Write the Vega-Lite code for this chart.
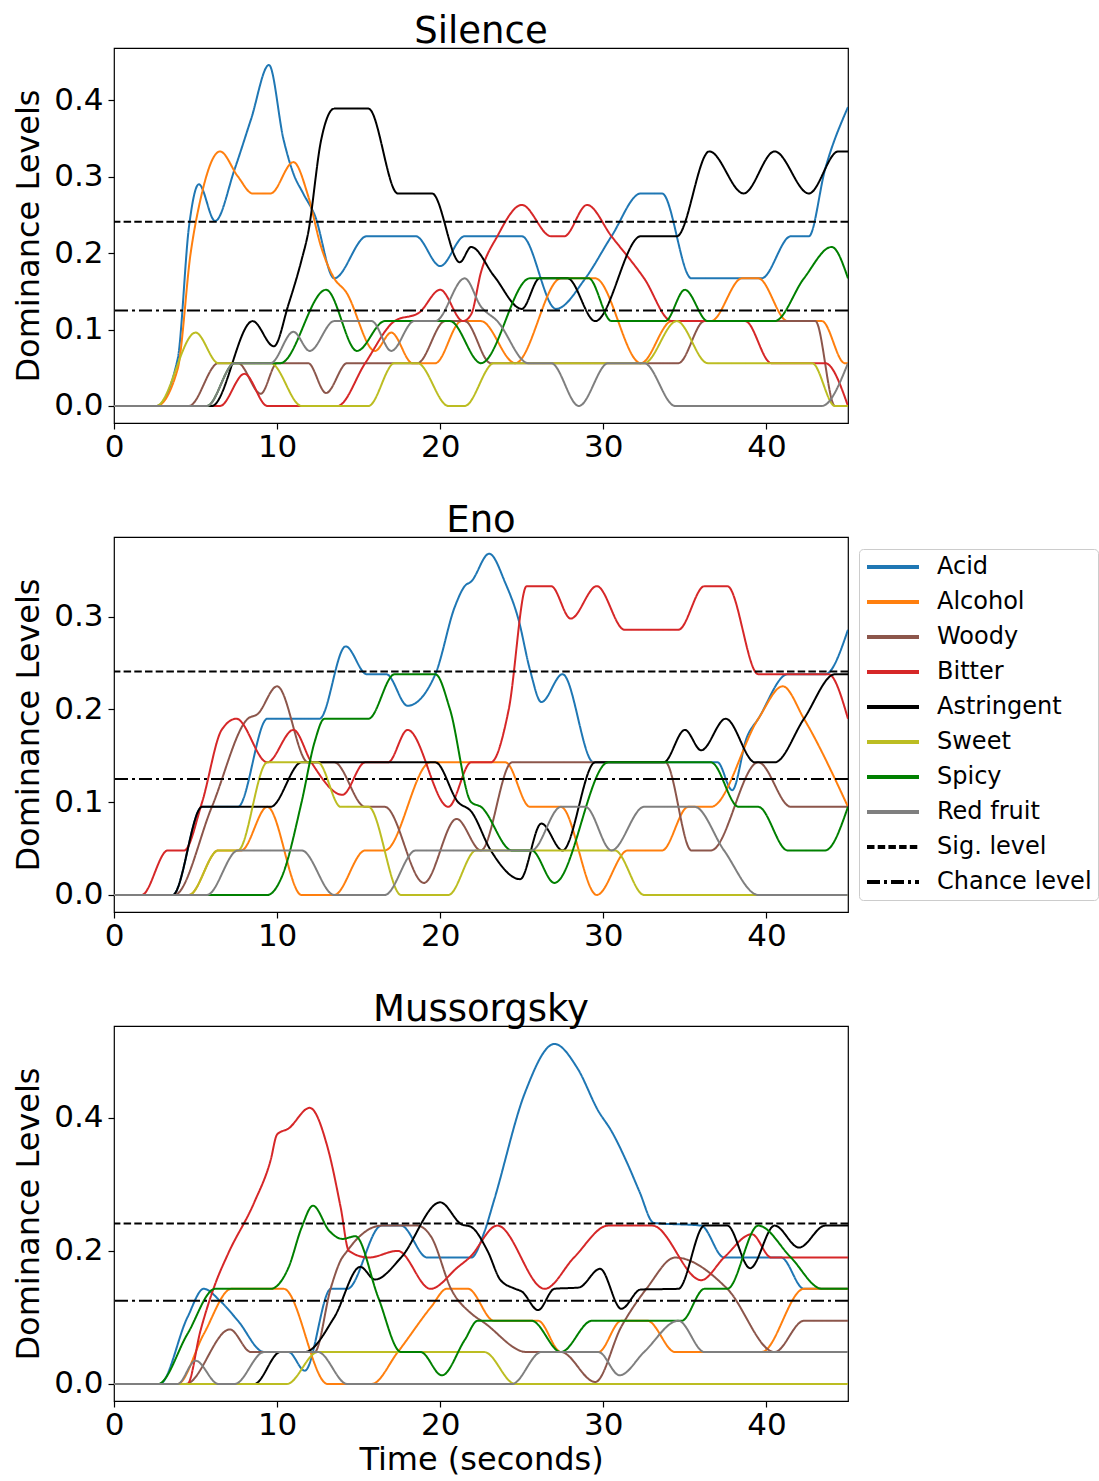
{
"$schema": "https://vega.github.io/schema/vega-lite/v6.json",
"padding": {"left": 12, "top": 12, "right": 0, "bottom": 0},
"background": "white",
"spacing": 114,
"bounds": "flush",
"config": {
 "font": "DejaVu Sans",
 "view": {"stroke": "#000", "strokeWidth": 1.2},
 "axis": {"grid": false, "domain": false, "tickColor": "#000", "tickSize": 6, "tickWidth": 1.2, "labelColor": "#000", "labelFontSize": 31, "labelFont": "DejaVu Sans", "titleFont": "DejaVu Sans", "titleFontSize": 32, "titleFontWeight": "normal", "titleColor": "#000", "labelPadding": 5},
 "axisY": {"titlePadding": 8},
 "axisX": {"titlePadding": 4, "labelPadding": 3, "labelFlush": false},
 "title": {"fontSize": 37, "fontWeight": "normal", "font": "DejaVu Sans", "color": "#000", "offset": -3},
 "legend": {"orient": "none", "legendX": 745, "legendY": 501, "title": null, "symbolType": "stroke", "symbolSize": 2704, "symbolStrokeWidth": 4, "labelFont": "DejaVu Sans", "labelFontSize": 24, "labelColor": "#000", "labelOffset": 16, "rowPadding": 11, "clipHeight": 24, "padding": 6, "strokeColor": "#cccccc", "fillColor": "white", "cornerRadius": 4}
},
"datasets": {
"refs": [{"s": "Sig. level", "v": 0.241}, {"s": "Chance level", "v": 0.125}],
"S": [
{"s":"Acid","t":0,"v":0},{"s":"Acid","t":2.6,"v":0},{"s":"Acid","t":3.9,"v":0.061},{"s":"Acid","t":4.6,"v":0.235},{"s":"Acid","t":5.2,"v":0.29},{"s":"Acid","t":6.2,"v":0.242},{"s":"Acid","t":7.4,"v":0.31},{"s":"Acid","t":8.4,"v":0.375},{"s":"Acid","t":9.5,"v":0.446},{"s":"Acid","t":10.4,"v":0.348},{"s":"Acid","t":11.0,"v":0.304},{"s":"Acid","t":11.6,"v":0.278},{"s":"Acid","t":12.3,"v":0.25},{"s":"Acid","t":13.5,"v":0.167},{"s":"Acid","t":15.5,"v":0.222},{"s":"Acid","t":18.5,"v":0.222},{"s":"Acid","t":20.0,"v":0.183},{"s":"Acid","t":21.5,"v":0.222},{"s":"Acid","t":25.0,"v":0.222},{"s":"Acid","t":27.1,"v":0.127},{"s":"Acid","t":28.9,"v":0.167},{"s":"Acid","t":30.5,"v":0.222},{"s":"Acid","t":32.3,"v":0.278},{"s":"Acid","t":33.6,"v":0.278},{"s":"Acid","t":35.4,"v":0.167},{"s":"Acid","t":39.7,"v":0.167},{"s":"Acid","t":41.5,"v":0.222},{"s":"Acid","t":42.6,"v":0.222},{"s":"Acid","t":43.6,"v":0.31},{"s":"Acid","t":45,"v":0.391},
{"s":"Alcohol","t":0,"v":0},{"s":"Alcohol","t":2.6,"v":0},{"s":"Alcohol","t":3.9,"v":0.048},{"s":"Alcohol","t":4.7,"v":0.2},{"s":"Alcohol","t":5.3,"v":0.27},{"s":"Alcohol","t":6.5,"v":0.333},{"s":"Alcohol","t":7.6,"v":0.3},{"s":"Alcohol","t":8.5,"v":0.278},{"s":"Alcohol","t":9.6,"v":0.278},{"s":"Alcohol","t":11.0,"v":0.319},{"s":"Alcohol","t":11.9,"v":0.275},{"s":"Alcohol","t":12.7,"v":0.208},{"s":"Alcohol","t":13.5,"v":0.167},{"s":"Alcohol","t":14.2,"v":0.15},{"s":"Alcohol","t":16.0,"v":0.072},{"s":"Alcohol","t":17.0,"v":0.096},{"s":"Alcohol","t":18.3,"v":0.056},{"s":"Alcohol","t":19.7,"v":0.056},{"s":"Alcohol","t":21.3,"v":0.111},{"s":"Alcohol","t":22.5,"v":0.111},{"s":"Alcohol","t":24.6,"v":0.056},{"s":"Alcohol","t":27.4,"v":0.167},{"s":"Alcohol","t":29.5,"v":0.167},{"s":"Alcohol","t":32.3,"v":0.056},{"s":"Alcohol","t":34.2,"v":0.111},{"s":"Alcohol","t":36.6,"v":0.111},{"s":"Alcohol","t":38.5,"v":0.167},{"s":"Alcohol","t":39.5,"v":0.167},{"s":"Alcohol","t":41.3,"v":0.111},{"s":"Alcohol","t":43.4,"v":0.111},{"s":"Alcohol","t":44.8,"v":0.056},{"s":"Alcohol","t":45,"v":0.056},
{"s":"Woody","t":0,"v":0},{"s":"Woody","t":4.6,"v":0},{"s":"Woody","t":6.4,"v":0.056},{"s":"Woody","t":7.6,"v":0.056},{"s":"Woody","t":9.0,"v":0.016},{"s":"Woody","t":10.0,"v":0.056},{"s":"Woody","t":11.9,"v":0.056},{"s":"Woody","t":13.0,"v":0.017},{"s":"Woody","t":14.3,"v":0.056},{"s":"Woody","t":18.6,"v":0.056},{"s":"Woody","t":20.3,"v":0.111},{"s":"Woody","t":21.5,"v":0.111},{"s":"Woody","t":23.1,"v":0.056},{"s":"Woody","t":34.6,"v":0.056},{"s":"Woody","t":36.2,"v":0.111},{"s":"Woody","t":43.0,"v":0.111},{"s":"Woody","t":44.2,"v":0},{"s":"Woody","t":45,"v":0},
{"s":"Bitter","t":0,"v":0},{"s":"Bitter","t":6.5,"v":0},{"s":"Bitter","t":8.0,"v":0.042},{"s":"Bitter","t":9.4,"v":0},{"s":"Bitter","t":13.7,"v":0},{"s":"Bitter","t":15.4,"v":0.056},{"s":"Bitter","t":17.2,"v":0.111},{"s":"Bitter","t":18.7,"v":0.122},{"s":"Bitter","t":20.0,"v":0.152},{"s":"Bitter","t":21.4,"v":0.111},{"s":"Bitter","t":21.9,"v":0.12},{"s":"Bitter","t":22.5,"v":0.175},{"s":"Bitter","t":23.5,"v":0.222},{"s":"Bitter","t":25.0,"v":0.263},{"s":"Bitter","t":26.8,"v":0.222},{"s":"Bitter","t":27.6,"v":0.222},{"s":"Bitter","t":29.0,"v":0.263},{"s":"Bitter","t":30.5,"v":0.222},{"s":"Bitter","t":32.5,"v":0.167},{"s":"Bitter","t":34.2,"v":0.111},{"s":"Bitter","t":38.7,"v":0.111},{"s":"Bitter","t":40.3,"v":0.056},{"s":"Bitter","t":43.6,"v":0.056},{"s":"Bitter","t":45,"v":0},
{"s":"Astringent","t":0,"v":0},{"s":"Astringent","t":6.0,"v":0},{"s":"Astringent","t":8.5,"v":0.111},{"s":"Astringent","t":9.8,"v":0.078},{"s":"Astringent","t":10.7,"v":0.133},{"s":"Astringent","t":11.5,"v":0.191},{"s":"Astringent","t":11.9,"v":0.226},{"s":"Astringent","t":12.7,"v":0.348},{"s":"Astringent","t":13.5,"v":0.389},{"s":"Astringent","t":15.6,"v":0.389},{"s":"Astringent","t":17.4,"v":0.278},{"s":"Astringent","t":19.5,"v":0.278},{"s":"Astringent","t":21.2,"v":0.188},{"s":"Astringent","t":21.9,"v":0.208},{"s":"Astringent","t":23.3,"v":0.17},{"s":"Astringent","t":25.0,"v":0.127},{"s":"Astringent","t":26.1,"v":0.167},{"s":"Astringent","t":27.8,"v":0.167},{"s":"Astringent","t":29.5,"v":0.111},{"s":"Astringent","t":32.3,"v":0.222},{"s":"Astringent","t":34.5,"v":0.222},{"s":"Astringent","t":36.5,"v":0.333},{"s":"Astringent","t":38.6,"v":0.278},{"s":"Astringent","t":40.5,"v":0.333},{"s":"Astringent","t":42.6,"v":0.278},{"s":"Astringent","t":44.4,"v":0.333},{"s":"Astringent","t":45,"v":0.333},
{"s":"Sweet","t":0,"v":0},{"s":"Sweet","t":2.6,"v":0},{"s":"Sweet","t":5.0,"v":0.096},{"s":"Sweet","t":6.4,"v":0.056},{"s":"Sweet","t":9.6,"v":0.056},{"s":"Sweet","t":11.5,"v":0},{"s":"Sweet","t":15.6,"v":0},{"s":"Sweet","t":17.2,"v":0.056},{"s":"Sweet","t":18.6,"v":0.056},{"s":"Sweet","t":20.5,"v":0},{"s":"Sweet","t":21.5,"v":0},{"s":"Sweet","t":23.3,"v":0.056},{"s":"Sweet","t":32.5,"v":0.056},{"s":"Sweet","t":34.5,"v":0.111},{"s":"Sweet","t":36.4,"v":0.056},{"s":"Sweet","t":42.8,"v":0.056},{"s":"Sweet","t":44.2,"v":0},{"s":"Sweet","t":45,"v":0},
{"s":"Spicy","t":0,"v":0},{"s":"Spicy","t":5.7,"v":0},{"s":"Spicy","t":7.4,"v":0.056},{"s":"Spicy","t":10.2,"v":0.056},{"s":"Spicy","t":13.0,"v":0.152},{"s":"Spicy","t":14.9,"v":0.072},{"s":"Spicy","t":16.6,"v":0.111},{"s":"Spicy","t":20.6,"v":0.111},{"s":"Spicy","t":22.5,"v":0.056},{"s":"Spicy","t":25.5,"v":0.167},{"s":"Spicy","t":29.1,"v":0.167},{"s":"Spicy","t":30.5,"v":0.111},{"s":"Spicy","t":33.8,"v":0.111},{"s":"Spicy","t":35.0,"v":0.152},{"s":"Spicy","t":36.4,"v":0.111},{"s":"Spicy","t":40.5,"v":0.111},{"s":"Spicy","t":42.3,"v":0.167},{"s":"Spicy","t":44.0,"v":0.208},{"s":"Spicy","t":45,"v":0.167},
{"s":"Red fruit","t":0,"v":0},{"s":"Red fruit","t":5.7,"v":0},{"s":"Red fruit","t":7.4,"v":0.056},{"s":"Red fruit","t":9.6,"v":0.056},{"s":"Red fruit","t":11.0,"v":0.097},{"s":"Red fruit","t":12.0,"v":0.072},{"s":"Red fruit","t":13.5,"v":0.111},{"s":"Red fruit","t":15.8,"v":0.111},{"s":"Red fruit","t":17.0,"v":0.072},{"s":"Red fruit","t":18.4,"v":0.111},{"s":"Red fruit","t":19.7,"v":0.111},{"s":"Red fruit","t":21.5,"v":0.167},{"s":"Red fruit","t":22.5,"v":0.13},{"s":"Red fruit","t":23.5,"v":0.111},{"s":"Red fruit","t":25.4,"v":0.056},{"s":"Red fruit","t":26.8,"v":0.056},{"s":"Red fruit","t":28.5,"v":0},{"s":"Red fruit","t":30.3,"v":0.056},{"s":"Red fruit","t":32.5,"v":0.056},{"s":"Red fruit","t":34.4,"v":0},{"s":"Red fruit","t":43.4,"v":0},{"s":"Red fruit","t":45,"v":0.056}
],
"E": [
{"s":"Acid","t":0,"v":0},{"s":"Acid","t":3.6,"v":0},{"s":"Acid","t":5.4,"v":0.095},{"s":"Acid","t":7.6,"v":0.095},{"s":"Acid","t":9.4,"v":0.19},{"s":"Acid","t":12.6,"v":0.19},{"s":"Acid","t":14.2,"v":0.268},{"s":"Acid","t":15.5,"v":0.238},{"s":"Acid","t":16.7,"v":0.238},{"s":"Acid","t":18.0,"v":0.204},{"s":"Acid","t":19.7,"v":0.238},{"s":"Acid","t":20.9,"v":0.311},{"s":"Acid","t":21.5,"v":0.333},{"s":"Acid","t":21.9,"v":0.338},{"s":"Acid","t":23.0,"v":0.368},{"s":"Acid","t":24.0,"v":0.336},{"s":"Acid","t":24.8,"v":0.297},{"s":"Acid","t":25.5,"v":0.243},{"s":"Acid","t":26.2,"v":0.208},{"s":"Acid","t":27.5,"v":0.238},{"s":"Acid","t":29.4,"v":0.143},{"s":"Acid","t":37.0,"v":0.143},{"s":"Acid","t":37.9,"v":0.113},{"s":"Acid","t":38.8,"v":0.17},{"s":"Acid","t":39.5,"v":0.19},{"s":"Acid","t":41.3,"v":0.238},{"s":"Acid","t":43.6,"v":0.238},{"s":"Acid","t":45,"v":0.286},
{"s":"Alcohol","t":0,"v":0},{"s":"Alcohol","t":4.6,"v":0},{"s":"Alcohol","t":6.4,"v":0.048},{"s":"Alcohol","t":7.8,"v":0.048},{"s":"Alcohol","t":9.4,"v":0.095},{"s":"Alcohol","t":11.5,"v":0},{"s":"Alcohol","t":13.5,"v":0},{"s":"Alcohol","t":15.4,"v":0.048},{"s":"Alcohol","t":16.6,"v":0.048},{"s":"Alcohol","t":19.4,"v":0.143},{"s":"Alcohol","t":24.0,"v":0.143},{"s":"Alcohol","t":25.5,"v":0.095},{"s":"Alcohol","t":27.4,"v":0.095},{"s":"Alcohol","t":29.6,"v":0},{"s":"Alcohol","t":31.5,"v":0.048},{"s":"Alcohol","t":33.6,"v":0.048},{"s":"Alcohol","t":35.2,"v":0.095},{"s":"Alcohol","t":36.6,"v":0.095},{"s":"Alcohol","t":39.5,"v":0.19},{"s":"Alcohol","t":41.0,"v":0.225},{"s":"Alcohol","t":42.3,"v":0.19},{"s":"Alcohol","t":45,"v":0.095},
{"s":"Woody","t":0,"v":0},{"s":"Woody","t":3.7,"v":0},{"s":"Woody","t":6.0,"v":0.095},{"s":"Woody","t":8.2,"v":0.19},{"s":"Woody","t":8.8,"v":0.195},{"s":"Woody","t":10.0,"v":0.225},{"s":"Woody","t":11.9,"v":0.143},{"s":"Woody","t":13.5,"v":0.143},{"s":"Woody","t":15.4,"v":0.095},{"s":"Woody","t":16.6,"v":0.095},{"s":"Woody","t":19.0,"v":0.013},{"s":"Woody","t":21.0,"v":0.082},{"s":"Woody","t":22.5,"v":0.048},{"s":"Woody","t":24.4,"v":0.143},{"s":"Woody","t":33.8,"v":0.143},{"s":"Woody","t":35.4,"v":0.048},{"s":"Woody","t":36.6,"v":0.048},{"s":"Woody","t":39.5,"v":0.143},{"s":"Woody","t":41.5,"v":0.095},{"s":"Woody","t":45,"v":0.095},
{"s":"Bitter","t":0,"v":0},{"s":"Bitter","t":1.7,"v":0},{"s":"Bitter","t":3.3,"v":0.048},{"s":"Bitter","t":4.3,"v":0.048},{"s":"Bitter","t":5.4,"v":0.1},{"s":"Bitter","t":6.6,"v":0.178},{"s":"Bitter","t":7.5,"v":0.19},{"s":"Bitter","t":9.4,"v":0.143},{"s":"Bitter","t":11.0,"v":0.178},{"s":"Bitter","t":12.1,"v":0.143},{"s":"Bitter","t":14.0,"v":0.108},{"s":"Bitter","t":15.4,"v":0.143},{"s":"Bitter","t":16.8,"v":0.143},{"s":"Bitter","t":18.0,"v":0.178},{"s":"Bitter","t":20.5,"v":0.095},{"s":"Bitter","t":21.9,"v":0.143},{"s":"Bitter","t":23.1,"v":0.143},{"s":"Bitter","t":24.2,"v":0.2},{"s":"Bitter","t":25.3,"v":0.333},{"s":"Bitter","t":26.8,"v":0.333},{"s":"Bitter","t":28.0,"v":0.298},{"s":"Bitter","t":29.6,"v":0.333},{"s":"Bitter","t":31.3,"v":0.286},{"s":"Bitter","t":34.6,"v":0.286},{"s":"Bitter","t":36.2,"v":0.333},{"s":"Bitter","t":37.6,"v":0.333},{"s":"Bitter","t":39.5,"v":0.238},{"s":"Bitter","t":43.8,"v":0.238},{"s":"Bitter","t":45,"v":0.19},
{"s":"Astringent","t":0,"v":0},{"s":"Astringent","t":3.6,"v":0},{"s":"Astringent","t":5.4,"v":0.095},{"s":"Astringent","t":9.6,"v":0.095},{"s":"Astringent","t":11.5,"v":0.143},{"s":"Astringent","t":19.7,"v":0.143},{"s":"Astringent","t":21.1,"v":0.1},{"s":"Astringent","t":21.9,"v":0.09},{"s":"Astringent","t":23.1,"v":0.048},{"s":"Astringent","t":24.9,"v":0.017},{"s":"Astringent","t":26.2,"v":0.077},{"s":"Astringent","t":27.5,"v":0.048},{"s":"Astringent","t":29.5,"v":0.143},{"s":"Astringent","t":33.7,"v":0.143},{"s":"Astringent","t":35.0,"v":0.178},{"s":"Astringent","t":36.0,"v":0.156},{"s":"Astringent","t":37.5,"v":0.19},{"s":"Astringent","t":39.3,"v":0.143},{"s":"Astringent","t":40.5,"v":0.143},{"s":"Astringent","t":42.3,"v":0.19},{"s":"Astringent","t":44.2,"v":0.238},{"s":"Astringent","t":45,"v":0.238},
{"s":"Sweet","t":0,"v":0},{"s":"Sweet","t":4.6,"v":0},{"s":"Sweet","t":6.4,"v":0.048},{"s":"Sweet","t":7.6,"v":0.048},{"s":"Sweet","t":9.4,"v":0.143},{"s":"Sweet","t":12.5,"v":0.143},{"s":"Sweet","t":13.9,"v":0.095},{"s":"Sweet","t":15.6,"v":0.095},{"s":"Sweet","t":17.6,"v":0},{"s":"Sweet","t":20.5,"v":0},{"s":"Sweet","t":22.2,"v":0.048},{"s":"Sweet","t":30.7,"v":0.048},{"s":"Sweet","t":32.5,"v":0},{"s":"Sweet","t":45,"v":0},
{"s":"Spicy","t":0,"v":0},{"s":"Spicy","t":9.4,"v":0},{"s":"Spicy","t":10.3,"v":0.02},{"s":"Spicy","t":11.5,"v":0.1},{"s":"Spicy","t":12.3,"v":0.165},{"s":"Spicy","t":12.9,"v":0.19},{"s":"Spicy","t":15.6,"v":0.19},{"s":"Spicy","t":17.2,"v":0.238},{"s":"Spicy","t":19.7,"v":0.238},{"s":"Spicy","t":20.6,"v":0.2},{"s":"Spicy","t":21.9,"v":0.1},{"s":"Spicy","t":22.5,"v":0.095},{"s":"Spicy","t":24.4,"v":0.048},{"s":"Spicy","t":25.6,"v":0.048},{"s":"Spicy","t":27.0,"v":0.013},{"s":"Spicy","t":30.3,"v":0.143},{"s":"Spicy","t":36.6,"v":0.143},{"s":"Spicy","t":38.3,"v":0.095},{"s":"Spicy","t":39.5,"v":0.095},{"s":"Spicy","t":41.3,"v":0.048},{"s":"Spicy","t":43.6,"v":0.048},{"s":"Spicy","t":45,"v":0.095},
{"s":"Red fruit","t":0,"v":0},{"s":"Red fruit","t":5.7,"v":0},{"s":"Red fruit","t":7.6,"v":0.048},{"s":"Red fruit","t":11.5,"v":0.048},{"s":"Red fruit","t":13.5,"v":0},{"s":"Red fruit","t":16.6,"v":0},{"s":"Red fruit","t":18.5,"v":0.048},{"s":"Red fruit","t":25.6,"v":0.048},{"s":"Red fruit","t":27.4,"v":0.095},{"s":"Red fruit","t":28.9,"v":0.095},{"s":"Red fruit","t":30.5,"v":0.048},{"s":"Red fruit","t":32.5,"v":0.095},{"s":"Red fruit","t":35.6,"v":0.095},{"s":"Red fruit","t":37.4,"v":0.048},{"s":"Red fruit","t":39.5,"v":0},{"s":"Red fruit","t":45,"v":0}
],
"M": [
{"s":"Acid","t":0,"v":0},{"s":"Acid","t":2.8,"v":0},{"s":"Acid","t":4.5,"v":0.1},{"s":"Acid","t":5.5,"v":0.143},{"s":"Acid","t":6.5,"v":0.125},{"s":"Acid","t":7.6,"v":0.095},{"s":"Acid","t":9.2,"v":0.048},{"s":"Acid","t":10.7,"v":0.048},{"s":"Acid","t":11.7,"v":0.02},{"s":"Acid","t":13.3,"v":0.143},{"s":"Acid","t":14.3,"v":0.143},{"s":"Acid","t":16.4,"v":0.238},{"s":"Acid","t":17.6,"v":0.238},{"s":"Acid","t":19.2,"v":0.19},{"s":"Acid","t":21.9,"v":0.19},{"s":"Acid","t":22.7,"v":0.228},{"s":"Acid","t":23.3,"v":0.276},{"s":"Acid","t":25.2,"v":0.438},{"s":"Acid","t":27.0,"v":0.511},{"s":"Acid","t":28.4,"v":0.475},{"s":"Acid","t":29.7,"v":0.41},{"s":"Acid","t":30.5,"v":0.38},{"s":"Acid","t":31.5,"v":0.33},{"s":"Acid","t":32.2,"v":0.29},{"s":"Acid","t":33.1,"v":0.242},{"s":"Acid","t":36.0,"v":0.238},{"s":"Acid","t":37.4,"v":0.19},{"s":"Acid","t":40.9,"v":0.19},{"s":"Acid","t":42.3,"v":0.143},{"s":"Acid","t":45,"v":0.143},
{"s":"Alcohol","t":0,"v":0},{"s":"Alcohol","t":3.9,"v":0},{"s":"Alcohol","t":5.5,"v":0.075},{"s":"Alcohol","t":7.2,"v":0.143},{"s":"Alcohol","t":10.4,"v":0.143},{"s":"Alcohol","t":13.1,"v":0},{"s":"Alcohol","t":15.8,"v":0},{"s":"Alcohol","t":17.4,"v":0.048},{"s":"Alcohol","t":19.45,"v":0.116},{"s":"Alcohol","t":20.4,"v":0.143},{"s":"Alcohol","t":21.7,"v":0.143},{"s":"Alcohol","t":23.3,"v":0.095},{"s":"Alcohol","t":26.0,"v":0.095},{"s":"Alcohol","t":27.4,"v":0.048},{"s":"Alcohol","t":29.7,"v":0.048},{"s":"Alcohol","t":31.1,"v":0.095},{"s":"Alcohol","t":32.7,"v":0.095},{"s":"Alcohol","t":34.4,"v":0.048},{"s":"Alcohol","t":39.7,"v":0.048},{"s":"Alcohol","t":42.3,"v":0.143},{"s":"Alcohol","t":45,"v":0.143},
{"s":"Woody","t":0,"v":0},{"s":"Woody","t":4.4,"v":0},{"s":"Woody","t":7.1,"v":0.082},{"s":"Woody","t":8.4,"v":0.048},{"s":"Woody","t":12.3,"v":0.048},{"s":"Woody","t":13.3,"v":0.145},{"s":"Woody","t":13.9,"v":0.186},{"s":"Woody","t":14.3,"v":0.2},{"s":"Woody","t":14.9,"v":0.218},{"s":"Woody","t":16.4,"v":0.238},{"s":"Woody","t":18.6,"v":0.238},{"s":"Woody","t":19.45,"v":0.221},{"s":"Woody","t":20.7,"v":0.141},{"s":"Woody","t":21.9,"v":0.106},{"s":"Woody","t":22.7,"v":0.092},{"s":"Woody","t":25.3,"v":0.048},{"s":"Woody","t":27.4,"v":0.048},{"s":"Woody","t":29.5,"v":0.003},{"s":"Woody","t":31.1,"v":0.086},{"s":"Woody","t":32.7,"v":0.145},{"s":"Woody","t":34.4,"v":0.19},{"s":"Woody","t":37.6,"v":0.143},{"s":"Woody","t":40.5,"v":0.048},{"s":"Woody","t":42.3,"v":0.095},{"s":"Woody","t":45,"v":0.095},
{"s":"Bitter","t":0,"v":0},{"s":"Bitter","t":4.5,"v":0},{"s":"Bitter","t":5.3,"v":0.08},{"s":"Bitter","t":6.2,"v":0.15},{"s":"Bitter","t":7.0,"v":0.196},{"s":"Bitter","t":8.6,"v":0.273},{"s":"Bitter","t":9.6,"v":0.336},{"s":"Bitter","t":10.0,"v":0.375},{"s":"Bitter","t":10.7,"v":0.384},{"s":"Bitter","t":12.0,"v":0.415},{"s":"Bitter","t":13.1,"v":0.355},{"s":"Bitter","t":13.9,"v":0.265},{"s":"Bitter","t":14.4,"v":0.2},{"s":"Bitter","t":15.6,"v":0.19},{"s":"Bitter","t":17.4,"v":0.2},{"s":"Bitter","t":19.4,"v":0.143},{"s":"Bitter","t":21.1,"v":0.176},{"s":"Bitter","t":21.8,"v":0.19},{"s":"Bitter","t":23.5,"v":0.238},{"s":"Bitter","t":26.4,"v":0.143},{"s":"Bitter","t":28.2,"v":0.19},{"s":"Bitter","t":30.3,"v":0.238},{"s":"Bitter","t":33.0,"v":0.238},{"s":"Bitter","t":36.0,"v":0.156},{"s":"Bitter","t":37.4,"v":0.19},{"s":"Bitter","t":39.1,"v":0.225},{"s":"Bitter","t":40.3,"v":0.19},{"s":"Bitter","t":45,"v":0.19},
{"s":"Astringent","t":0,"v":0},{"s":"Astringent","t":8.6,"v":0},{"s":"Astringent","t":10.2,"v":0.048},{"s":"Astringent","t":11.7,"v":0.048},{"s":"Astringent","t":13.5,"v":0.1},{"s":"Astringent","t":15.1,"v":0.176},{"s":"Astringent","t":16.0,"v":0.157},{"s":"Astringent","t":17.6,"v":0.19},{"s":"Astringent","t":20.0,"v":0.273},{"s":"Astringent","t":21.3,"v":0.24},{"s":"Astringent","t":21.9,"v":0.236},{"s":"Astringent","t":22.9,"v":0.2},{"s":"Astringent","t":23.7,"v":0.156},{"s":"Astringent","t":24.6,"v":0.143},{"s":"Astringent","t":25.0,"v":0.139},{"s":"Astringent","t":26.0,"v":0.111},{"s":"Astringent","t":27.0,"v":0.143},{"s":"Astringent","t":28.5,"v":0.145},{"s":"Astringent","t":29.8,"v":0.173},{"s":"Astringent","t":31.1,"v":0.113},{"s":"Astringent","t":32.3,"v":0.142},{"s":"Astringent","t":34.6,"v":0.143},{"s":"Astringent","t":36.2,"v":0.238},{"s":"Astringent","t":37.6,"v":0.238},{"s":"Astringent","t":39.0,"v":0.174},{"s":"Astringent","t":40.5,"v":0.238},{"s":"Astringent","t":42.0,"v":0.205},{"s":"Astringent","t":43.6,"v":0.238},{"s":"Astringent","t":45,"v":0.238},
{"s":"Sweet","t":0,"v":0},{"s":"Sweet","t":10.6,"v":0},{"s":"Sweet","t":12.5,"v":0.048},{"s":"Sweet","t":22.7,"v":0.048},{"s":"Sweet","t":24.6,"v":0},{"s":"Sweet","t":45,"v":0},
{"s":"Spicy","t":0,"v":0},{"s":"Spicy","t":2.7,"v":0},{"s":"Spicy","t":4.5,"v":0.075},{"s":"Spicy","t":6.2,"v":0.143},{"s":"Spicy","t":9.6,"v":0.143},{"s":"Spicy","t":10.7,"v":0.175},{"s":"Spicy","t":11.5,"v":0.235},{"s":"Spicy","t":12.2,"v":0.268},{"s":"Spicy","t":13.2,"v":0.23},{"s":"Spicy","t":14.0,"v":0.218},{"s":"Spicy","t":14.8,"v":0.222},{"s":"Spicy","t":16.2,"v":0.13},{"s":"Spicy","t":17.6,"v":0.048},{"s":"Spicy","t":18.8,"v":0.048},{"s":"Spicy","t":20.1,"v":0.013},{"s":"Spicy","t":21.5,"v":0.066},{"s":"Spicy","t":22.3,"v":0.095},{"s":"Spicy","t":25.6,"v":0.095},{"s":"Spicy","t":27.4,"v":0.048},{"s":"Spicy","t":29.3,"v":0.095},{"s":"Spicy","t":34.8,"v":0.095},{"s":"Spicy","t":36.2,"v":0.143},{"s":"Spicy","t":37.6,"v":0.143},{"s":"Spicy","t":39.5,"v":0.238},{"s":"Spicy","t":41.5,"v":0.19},{"s":"Spicy","t":43.4,"v":0.143},{"s":"Spicy","t":45,"v":0.143},
{"s":"Red fruit","t":0,"v":0},{"s":"Red fruit","t":3.9,"v":0},{"s":"Red fruit","t":5.0,"v":0.035},{"s":"Red fruit","t":6.4,"v":0},{"s":"Red fruit","t":7.4,"v":0},{"s":"Red fruit","t":9.2,"v":0.048},{"s":"Red fruit","t":12.5,"v":0.048},{"s":"Red fruit","t":14.3,"v":0},{"s":"Red fruit","t":24.4,"v":0},{"s":"Red fruit","t":26.2,"v":0.048},{"s":"Red fruit","t":29.7,"v":0.048},{"s":"Red fruit","t":31.0,"v":0.013},{"s":"Red fruit","t":32.5,"v":0.048},{"s":"Red fruit","t":34.6,"v":0.095},{"s":"Red fruit","t":36.2,"v":0.048},{"s":"Red fruit","t":45,"v":0.048}
]
},
"vconcat": [
{
 "title": "Silence",
 "width": 734, "height": 375,
 "layer": [
  {"data": {"name": "S"}, "mark": {"type": "line", "interpolate": "monotone", "strokeWidth": 2, "clip": true},
   "encoding": {
    "x": {"field": "t", "type": "quantitative", "scale": {"domain": [0, 45], "nice": false, "zero": false}, "axis": {"values": [0, 10, 20, 30, 40], "format": "d", "title": null}},
    "y": {"field": "v", "type": "quantitative", "scale": {"domain": [-0.0223, 0.4683], "nice": false, "zero": false}, "axis": {"values": [0, 0.1, 0.2, 0.3, 0.4], "format": ".1f", "title": "Dominance Levels"}},
    "color": {"field": "s", "type": "nominal", "scale": {"domain": ["Acid","Alcohol","Woody","Bitter","Astringent","Sweet","Spicy","Red fruit","Sig. level","Chance level"], "range": ["#1f77b4","#ff7f0e","#8c564b","#d62728","#000000","#bcbd22","#008000","#7f7f7f","#000000","#000000"]}},
    "strokeDash": {"field": "s", "type": "nominal", "scale": {"domain": ["Acid","Alcohol","Woody","Bitter","Astringent","Sweet","Spicy","Red fruit","Sig. level","Chance level"], "range": [[1,0],[1,0],[1,0],[1,0],[1,0],[1,0],[1,0],[1,0],[7.5,3.2],[13,4,3,4]]}}
   }},
  {"data": {"name": "refs"}, "mark": {"type": "rule", "strokeWidth": 2},
   "encoding": {"y": {"field": "v", "type": "quantitative"}, "color": {"field": "s", "type": "nominal"}, "strokeDash": {"field": "s", "type": "nominal"}}}
 ]
},
{
 "title": "Eno",
 "width": 734, "height": 375,
 "layer": [
  {"data": {"name": "E"}, "mark": {"type": "line", "interpolate": "monotone", "strokeWidth": 2, "clip": true},
   "encoding": {
    "x": {"field": "t", "type": "quantitative", "scale": {"domain": [0, 45], "nice": false, "zero": false}, "axis": {"values": [0, 10, 20, 30, 40], "format": "d", "title": null}},
    "y": {"field": "v", "type": "quantitative", "scale": {"domain": [-0.0184, 0.386], "nice": false, "zero": false}, "axis": {"values": [0, 0.1, 0.2, 0.3], "format": ".1f", "title": "Dominance Levels"}},
    "color": {"field": "s", "type": "nominal"},
    "strokeDash": {"field": "s", "type": "nominal"}
   }},
  {"data": {"name": "refs"}, "mark": {"type": "rule", "strokeWidth": 2},
   "encoding": {"y": {"field": "v", "type": "quantitative"}, "color": {"field": "s", "type": "nominal"}, "strokeDash": {"field": "s", "type": "nominal"}}}
 ]
},
{
 "title": "Mussorgsky",
 "width": 734, "height": 375,
 "layer": [
  {"data": {"name": "M"}, "mark": {"type": "line", "interpolate": "monotone", "strokeWidth": 2, "clip": true},
   "encoding": {
    "x": {"field": "t", "type": "quantitative", "scale": {"domain": [0, 45], "nice": false, "zero": false}, "axis": {"values": [0, 10, 20, 30, 40], "format": "d", "title": "Time (seconds)"}},
    "y": {"field": "v", "type": "quantitative", "scale": {"domain": [-0.0256, 0.538], "nice": false, "zero": false}, "axis": {"values": [0, 0.2, 0.4], "format": ".1f", "title": "Dominance Levels"}},
    "color": {"field": "s", "type": "nominal"},
    "strokeDash": {"field": "s", "type": "nominal"}
   }},
  {"data": {"name": "refs"}, "mark": {"type": "rule", "strokeWidth": 2},
   "encoding": {"y": {"field": "v", "type": "quantitative"}, "color": {"field": "s", "type": "nominal"}, "strokeDash": {"field": "s", "type": "nominal"}}}
 ]
}
]
}
